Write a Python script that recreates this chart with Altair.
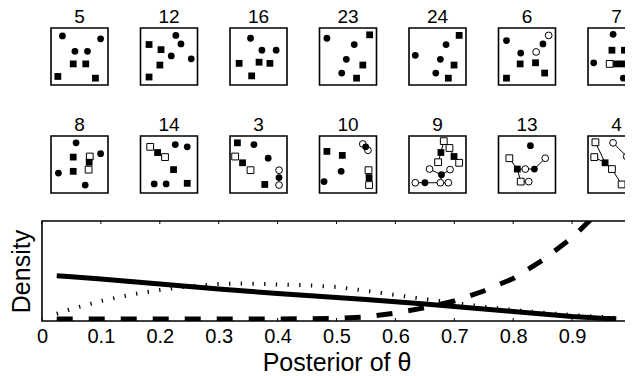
import altair as alt
import pandas as pd

FONT = "Liberation Sans"

# ---------------- small panels ----------------
PANEL_ORDER = ["5", "12", "16", "23", "24", "6", "7",
               "8", "14", "3", "10", "9", "13", "4"]

# marker codes: c = filled circle, o = open circle, s = filled square, q = open square
P5 = [("c", .20, .86), ("c", .87, .81), ("c", .42, .59), ("c", .64, .59),
      ("s", .39, .37), ("s", .61, .37), ("s", .12, .15), ("s", .78, .12)]
P12 = [("c", .62, .87), ("c", .71, .72), ("c", .54, .51), ("c", .89, .46),
       ("s", .15, .71), ("s", .36, .62), ("s", .34, .35), ("s", .15, .14)]
P16 = [("c", .36, .82), ("c", .56, .61), ("c", .81, .61),
       ("s", .16, .38), ("s", .51, .40), ("s", .70, .38), ("s", .38, .16)]
P23 = [("c", .13, .82), ("s", .88, .88), ("c", .61, .71), ("c", .47, .45),
       ("s", .76, .35), ("c", .39, .21), ("s", .65, .12)]
P24 = [("c", .11, .52), ("s", .88, .87), ("c", .65, .71), ("c", .55, .45),
       ("s", .79, .35), ("c", .47, .21), ("s", .69, .12)]
P6 = [("c", .14, .78), ("o", .88, .87), ("c", .78, .72), ("o", .66, .58),
      ("c", .39, .56), ("s", .38, .37), ("s", .65, .39), ("s", .81, .21), ("s", .14, .12)]
P7 = [("c", .44, .89), ("s", .42, .61), ("s", .64, .61), ("c", .10, .39),
      ("q", .38, .37), ("s", .50, .37), ("s", .61, .37), ("c", .62, .12)]
P8 = [("c", .44, .88), ("c", .87, .69), ("c", .13, .35), ("c", .60, .14),
      ("s", .39, .63), ("s", .39, .38), ("q", .68, .64), ("s", .67, .54), ("q", .66, .41)]
P14 = [("q", .17, .81), ("s", .30, .71), ("q", .43, .63), ("c", .61, .85), ("c", .82, .81),
       ("s", .58, .41), ("c", .24, .16), ("c", .45, .16), ("s", .82, .17)]
P3 = [("s", .13, .88), ("c", .42, .85), ("q", .09, .64), ("s", .22, .53), ("q", .36, .40),
      ("c", .67, .61), ("o", .86, .40), ("c", .86, .27), ("o", .86, .14), ("s", .61, .15)]
P10 = [("o", .76, .86), ("c", .81, .81), ("o", .85, .75), ("s", .13, .73), ("s", .40, .66),
       ("c", .38, .38), ("q", .86, .40), ("s", .87, .27), ("q", .87, .14), ("c", .08, .20)]
P9 = [("q", .61, .91), ("q", .71, .79), ("s", .56, .71), ("s", .79, .64), ("q", .51, .54),
      ("q", .88, .53), ("o", .36, .42), ("c", .57, .32), ("o", .72, .41),
      ("o", .11, .18), ("c", .28, .18), ("o", .55, .18), ("o", .69, .18)]
P13 = [("c", .56, .83), ("q", .19, .61), ("s", .33, .42), ("o", .47, .42), ("c", .63, .42),
       ("o", .82, .61), ("q", .39, .20), ("o", .53, .20)]
P4 = [("q", .13, .89), ("o", .44, .88), ("q", .11, .63), ("s", .30, .53), ("q", .42, .42),
      ("o", .68, .64), ("c", .73, .54), ("q", .59, .15), ("o", .74, .18)]

MARKERS = {"5": P5, "12": P12, "16": P16, "23": P23, "24": P24, "6": P6, "7": P7,
           "8": P8, "14": P14, "3": P3, "10": P10, "9": P9, "13": P13, "4": P4}

L9 = [[(.61, .91), (.56, .71), (.51, .54)],
      [(.71, .79), (.79, .64), (.88, .53)],
      [(.36, .42), (.57, .32), (.72, .41)],
      [(.11, .18), (.28, .18), (.55, .18), (.69, .18)],
      [(.57, .32), (.55, .18)]]
L13 = [[(.19, .61), (.33, .42), (.47, .42), (.63, .42), (.82, .61)],
       [(.33, .42), (.39, .20), (.53, .20)]]
L4 = [[(.13, .89), (.30, .53)],
      [(.11, .63), (.30, .53), (.42, .42), (.59, .15), (.74, .18)],
      [(.44, .88), (.68, .64), (.73, .54)]]
LINES = {"9": L9, "13": L13, "4": L4}

rows = []
for p in PANEL_ORDER:
    rows.append(dict(panel=p, kind="box"))
    for code, x, y in MARKERS[p]:
        rows.append(dict(panel=p, kind="pt", x=x, y=y,
                         shape="circle" if code in "co" else "square",
                         filled=code in "cs"))
    for i, chain in enumerate(LINES.get(p, [])):
        for j, (x, y) in enumerate(chain):
            rows.append(dict(panel=p, kind="line", chain=f"{p}-{i}", ord=j, x=x, y=y))
panel_df = pd.DataFrame(rows)

PX = alt.Scale(domain=[-0.158, 1.158], nice=False, zero=False)
PY = alt.Scale(domain=[0, 1], nice=False, zero=False)
SHAPES = alt.Scale(domain=["circle", "square"], range=["circle", "square"])

box = alt.Chart().mark_rect(filled=False, color="black", strokeWidth=1.6).encode(
    x=alt.XDatum(0, scale=PX, axis=None), x2=alt.X2Datum(1),
    y=alt.YDatum(0, scale=PY, axis=None), y2=alt.Y2Datum(1),
).transform_filter("datum.kind == 'box'")

links = alt.Chart().mark_line(color="black", strokeWidth=1).encode(
    x=alt.X("x:Q", scale=PX, axis=None), y=alt.Y("y:Q", scale=PY, axis=None),
    detail="chain:N", order="ord:Q",
).transform_filter("datum.kind == 'line'")

pts_open = alt.Chart().mark_point(filled=False, fill="white", stroke="black", strokeWidth=1,
                                  size=46, opacity=1, fillOpacity=1).encode(
    x=alt.X("x:Q", scale=PX, axis=None), y=alt.Y("y:Q", scale=PY, axis=None),
    shape=alt.Shape("shape:N", scale=SHAPES, legend=None),
).transform_filter("datum.kind == 'pt' && !datum.filled")

pts_fill = alt.Chart().mark_point(filled=True, color="black", size=46, opacity=1).encode(
    x=alt.X("x:Q", scale=PX, axis=None), y=alt.Y("y:Q", scale=PY, axis=None),
    shape=alt.Shape("shape:N", scale=SHAPES, legend=None),
).transform_filter("datum.kind == 'pt' && datum.filled")

panels = alt.layer(box, links, pts_open, pts_fill, data=panel_df).properties(
    width=75, height=57
).facet(
    facet=alt.Facet("panel:N", sort=PANEL_ORDER, title=None,
                    header=alt.Header(labelFontSize=19, labelFont=FONT, labelColor="black",
                                      labelPadding=0)),
    columns=7,
    spacing={"row": 30, "column": 14.5},
)

# ---------------- density plot ----------------
X_GRID = [0.025, 0.05, 0.10, 0.15, 0.20, 0.25, 0.30, 0.35, 0.40, 0.45, 0.50,
          0.55, 0.60, 0.65, 0.70, 0.75, 0.80, 0.85, 0.90, 0.95, 0.975]
SOLID = [1.73, 1.69, 1.60, 1.50, 1.40, 1.30, 1.20, 1.11, 1.02, 0.94, 0.86,
         0.78, 0.69, 0.60, 0.50, 0.40, 0.30, 0.20, 0.10, 0.03, 0.01]
DOTTED = [0.21, 0.40, 0.72, 0.97, 1.16, 1.31, 1.40, 1.42, 1.38, 1.35, 1.28,
          1.13, 0.96, 0.80, 0.64, 0.49, 0.36, 0.25, 0.16, 0.08, 0.04]
DASHED = [0, 0, 0, 0, 0, 0, 0, 0, 0, 0.01, 0.02,
          0.08, 0.24, 0.45, 0.72, 1.12, 1.62, 2.35, 3.25, 4.40, 5.10]
TICKS = [0, 0.1, 0.2, 0.3, 0.4, 0.5, 0.6, 0.7, 0.8, 0.9, 1]

dens_df = pd.DataFrame({
    "theta": X_GRID * 3,
    "density": SOLID + DOTTED + DASHED,
    "series": ["solid"] * len(X_GRID) + ["dotted"] * len(X_GRID) + ["dashed"] * len(X_GRID),
})
tick_df = pd.DataFrame({"theta": TICKS})

DX = alt.X("theta:Q", scale=alt.Scale(domain=[0, 1], nice=False, zero=False),
           axis=alt.Axis(values=TICKS, format="~g", title="Posterior of θ",
                         titleFontSize=25, titleFont=FONT, titleFontWeight="normal",
                         titleColor="black", titlePadding=4,
                         labelFontSize=20, labelFont=FONT, labelColor="black",
                         labelFlush=False, labelPadding=5, labelOverlap=False,
                         grid=False, domain=False, ticks=False))
DY = alt.Y("density:Q", scale=alt.Scale(domain=[-0.08, 3.92], nice=False, zero=False),
           axis=alt.Axis(title="Density", titleFontSize=25, titleFont=FONT,
                         titleFontWeight="normal", titleColor="black", titlePadding=8,
                         labels=False, ticks=False, grid=False, domain=False))

dbase = alt.Chart(dens_df)
solid = dbase.mark_line(color="black", strokeWidth=5, clip=True, strokeCap="butt").encode(
    DX, DY).transform_filter("datum.series == 'solid'")
dotted = dbase.mark_line(color="black", strokeWidth=4, clip=True, strokeCap="butt",
                         strokeDash=[1.3, 10.4]).encode(
    x="theta:Q", y="density:Q").transform_filter("datum.series == 'dotted'")
dashed = dbase.mark_line(color="black", strokeWidth=5, clip=True, strokeCap="butt",
                         strokeDash=[16, 16]).encode(
    x="theta:Q", y="density:Q").transform_filter("datum.series == 'dashed'")
top_ticks = alt.Chart(tick_df).mark_rule(color="black", strokeWidth=1).encode(
    x="theta:Q", y=alt.value(0), y2=alt.value(3))
bottom_ticks = alt.Chart(tick_df).mark_rule(color="black", strokeWidth=1).encode(
    x="theta:Q", y=alt.value(97), y2=alt.value(100))

density = alt.layer(solid, dotted, dashed, top_ticks, bottom_ticks).properties(
    width=589, height=100,
    view=alt.ViewBackground(stroke="black", strokeWidth=1.6),
)

chart = alt.vconcat(panels, density, spacing=25).properties(
    padding={"left": 0, "top": 0, "right": -29, "bottom": -2}
).configure(
    font=FONT
).configure_view(stroke=None)

chart.save("out.html", embed_options={"renderer": "svg", "actions": False})
